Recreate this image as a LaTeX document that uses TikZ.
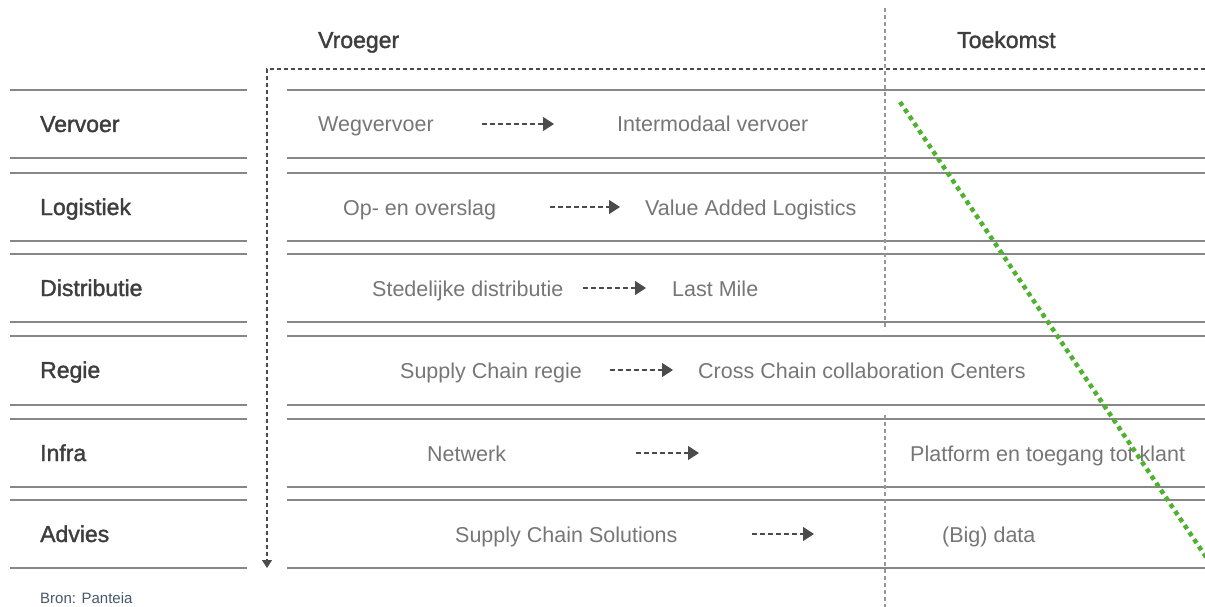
\documentclass[tikz,border=0pt]{standalone}
\usepackage{fontspec}
\setmainfont{Liberation Sans}
\newfontfamily\medfont[FakeBold=1.6]{Liberation Sans}
\usetikzlibrary{arrows.meta}
\definecolor{rlLine}{RGB}{135,135,135}
\definecolor{rlDash}{RGB}{150,150,150}
\definecolor{rlLabel}{RGB}{62,62,62}
\definecolor{rlText}{RGB}{118,118,118}
\definecolor{rlArrow}{RGB}{75,75,75}
\definecolor{rlGreen}{RGB}{78,178,48}
\definecolor{rlSrc}{RGB}{70,88,108}

\begin{document}
\begin{tikzpicture}[
  x=1pt, y=-1pt,
  rowline/.style={draw=rlLine, line width=1.5pt},
  guide/.style={draw=rlDash, line width=1.2pt, dash pattern=on 4pt off 3pt},
  flow/.style={draw=rlArrow, line width=1.1pt, dash pattern=on 5pt off 3pt,
    -{Triangle[width=14pt,length=11pt]}},
  rowlbl/.style={anchor=base west, inner sep=0pt, text=rlLabel,
    font=\medfont\fontsize{23}{27}\selectfont},
  hdr/.style={rowlbl},
  item/.style={anchor=base west, inner sep=0pt, text=rlText,
    font=\fontsize{21.5}{26}\selectfont},
  src/.style={anchor=base west, inner sep=0pt, text=rlSrc,
    font=\fontsize{15}{18}\selectfont}
]
\useasboundingbox (0,0) rectangle (1205,607);

%============ GRID ============
\foreach \t/\b in {90/158,173/241,254/322,336/405,419/487,500/568} {
  \draw[rowline] (10,\t) -- (247,\t);
  \draw[rowline] (10,\b) -- (247,\b);
  \draw[rowline] (287,\t) -- (1205,\t);
  \draw[rowline] (287,\b) -- (1205,\b);
}
% time axis
\draw[guide, -{Triangle[width=10pt,length=8pt]}, rlArrow] (1205,69) -- (267,69) -- (267,568);
\draw[guide] (885,8) -- (885,330);
\draw[guide] (885,415) -- (885,612);

%============ HEADERS ============
\node[hdr] (vroeger) at (318,48) {Vroeger};
\node[hdr] (toekomst) at (957,48) {Toekomst};

%============ ROWS ============
\node[rowlbl] (vervoer) at (40,132) {Vervoer};
\node[rowlbl] (logistiek) at (40,215) {Logistiek};
\node[rowlbl] (distributie) at (40,296) {Distributie};
\node[rowlbl] (regie) at (40,378) {Regie};
\node[rowlbl] (infra) at (40,461) {Infra};
\node[rowlbl] (advies) at (40,542) {Advies};

% vervoer
\node[item] (wv) at (318,132) {Wegvervoer};
\node[item] (im) at (617,132) {Intermodaal vervoer};
\coordinate (a1s) at (482,124); \coordinate (a1e) at (554,124);
\draw[flow] (a1s) -- (a1e);
% logistiek
\node[item] (oo) at (343,215) {Op- en overslag};
\node[item] (val) at (645,215) {Value Added Logistics};
\coordinate (a2s) at (550,207); \coordinate (a2e) at (620,207);
\draw[flow] (a2s) -- (a2e);
% distributie
\node[item] (sd) at (372,296) {Stedelijke distributie};
\node[item] (lm) at (672,296) {Last Mile};
\coordinate (a3s) at (583,288); \coordinate (a3e) at (646,288);
\draw[flow] (a3s) -- (a3e);
% regie
\node[item] (scr) at (400,378) {Supply Chain regie};
\node[item] (ccc) at (698,378) {Cross Chain collaboration Centers};
\coordinate (a4s) at (610,370); \coordinate (a4e) at (673,370);
\draw[flow] (a4s) -- (a4e);
% infra
\node[item] (nw) at (427,461) {Netwerk};
\node[item] (pl) at (910,461) {Platform en toegang tot klant};
\coordinate (a5s) at (636,453); \coordinate (a5e) at (699,453);
\draw[flow] (a5s) -- (a5e);
% advies
\node[item] (scs) at (455,542) {Supply Chain Solutions};
\node[item] (bd) at (942,542) {(Big) data};
\coordinate (a6s) at (752,534); \coordinate (a6e) at (814,534);
\draw[flow] (a6s) -- (a6e);

%============ TREND ============
\coordinate (g1) at (900,102);
\coordinate (g2) at (1210,563);
\draw[rlGreen, line width=4.5pt, dash pattern=on 4.5pt off 4pt] (g1) -- (g2);

\node[src] (bron) at (40,603) {Bron: Panteia};
\end{tikzpicture}
\end{document}
